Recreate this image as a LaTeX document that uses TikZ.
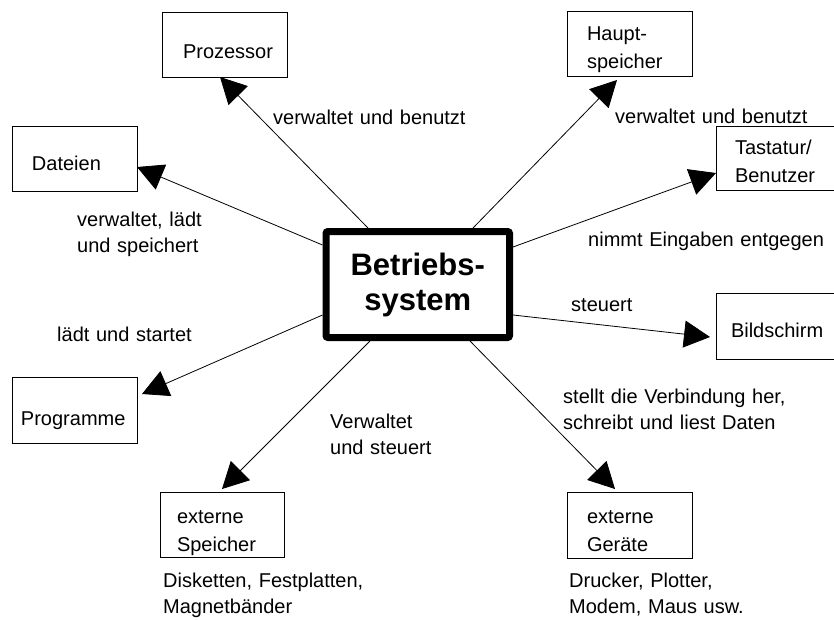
\documentclass[tikz,border=0pt]{standalone}
\usepackage{fontspec}
\setmainfont{Liberation Sans}
\usetikzlibrary{arrows.meta}
\begin{document}
\begin{tikzpicture}[x=1pt,y=-1pt,
  box/.style={draw=black, line width=0.9pt, rectangle, inner sep=0pt, outer sep=0pt,
    align=left, anchor=north west, font=\fontsize{20}{28}\selectfont},
  lbl/.style={inner sep=0pt, align=left, text width=262pt, anchor=base west,
    font=\fontsize{20}{26}\selectfont},
  arr/.style={line width=0.8pt, -{Triangle[length=26pt,width=27pt]}},
  core/.style={draw=black, line width=7pt, rounded corners=2pt, minimum width=183.5pt,
    minimum height=106pt, inner sep=0pt, align=center,
    font=\fontsize{31}{35}\selectfont\bfseries}
]
\useasboundingbox (0,0) rectangle (834,619);

% central node
\node[core] (c) at (417.75,284.5) {Betriebs-\\system};

% surrounding boxes
\node[box, text width=125pt, text height=46pt, text depth=19pt] (proz) at (162,12)
  {\hspace*{21pt}Prozessor};
\node[box, text width=125pt, text height=29pt, text depth=36pt] (haupt) at (567,11)
  {\hspace*{20pt}Haupt-\\\hspace*{20pt}speicher};
\node[box, text width=125pt, text height=44pt, text depth=21pt] (dat) at (12,126)
  {\hspace*{20pt}Dateien};
\node[box, text width=130pt, text height=28pt, text depth=36pt] (tast) at (716,126)
  {\hspace*{19pt}Tastatur/\\\hspace*{19pt}Benutzer};
\node[box, text width=130pt, text height=44pt, text depth=22pt] (bild) at (716,293)
  {\hspace*{15pt}Bildschirm};
\node[box, text width=125pt, text height=48pt, text depth=18pt] (prog) at (12,377)
  {\hspace*{9pt}Programme};
\node[box, text width=124pt, text height=31pt, text depth=34pt] (spe) at (160,492)
  {\hspace*{17pt}externe\\\hspace*{17pt}Speicher};
\node[box, text width=125pt, text height=31pt, text depth=35pt] (ger) at (567,492)
  {\hspace*{20pt}externe\\\hspace*{20pt}Geräte};

% connectors
\draw[arr] ([xshift=45.5pt]c.north west) -- ([xshift=-4.5pt]proz.south);
\draw[arr] ([xshift=-40pt]c.north east) -- ([xshift=-12.5pt,yshift=-4pt]haupt.south);
\draw[arr] ([yshift=-19pt]c.north east) -- ([yshift=-15pt]tast.west);
\draw[arr] ([yshift=26pt]c.south east) -- ([xshift=-6pt,yshift=-11pt]bild.west);
\draw[arr] ([yshift=-17pt]c.north west) -- ([yshift=-8.5pt]dat.east);
\draw[arr] ([yshift=26pt]c.south west) -- ([xshift=5pt,yshift=16pt]prog.east);
\draw[arr] ([xshift=47.5pt]c.south west) -- ([yshift=3pt]spe.north);
\draw[arr] ([xshift=-43pt]c.south east) -- ([xshift=-14.5pt,yshift=3pt]ger.north);

% labels
\node[lbl] (l1) at (273,124) {verwaltet und benutzt};
\node[lbl] (l2) at (615,123) {verwaltet und benutzt};
\node[lbl] (l3) at (77,226) {verwaltet, lädt\\und speichert};
\node[lbl] (l4) at (57,341) {lädt und startet};
\node[lbl] (l5) at (588,246) {nimmt Eingaben entgegen};
\node[lbl] (l6) at (571,311) {steuert};
\node[lbl] (l7) at (563,403) {stellt die Verbindung her,\\schreibt und liest Daten};
\node[lbl] (l8) at (330,428) {Verwaltet\\und steuert};
\node[lbl] (l9) at (163,587) {Disketten, Festplatten,\\Magnetbänder};
\node[lbl] (l10) at (569,587) {Drucker, Plotter,\\Modem, Maus usw.};
\end{tikzpicture}
\end{document}
